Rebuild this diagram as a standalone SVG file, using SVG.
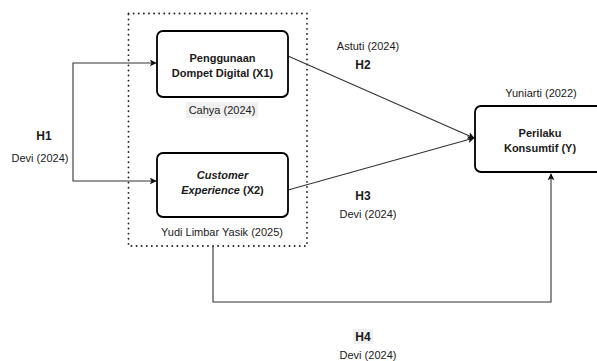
<svg xmlns="http://www.w3.org/2000/svg" width="597" height="361" viewBox="0 0 597 361">
  <style>
    .node { fill: #ffffff; stroke: #000000; stroke-width: 1.8; }
    .group { fill: none; stroke: #222222; stroke-width: 1.8; stroke-dasharray: 0.1 5; stroke-linecap: round; }
    .edge { fill: none; stroke: #333333; stroke-width: 1.1; }
    .lbl { font-family: "Liberation Sans", Arial, sans-serif; font-size: 11px; fill: #1a1a1a; text-anchor: middle; }
    .nodetxt { font-family: "Liberation Sans", Arial, sans-serif; font-size: 11px; font-weight: bold; fill: #1a1a1a; text-anchor: middle; }
    .hyp { font-family: "Liberation Sans", Arial, sans-serif; font-size: 12px; font-weight: bold; fill: #1a1a1a; text-anchor: middle; }
    .hl { fill: #f0f0f0; }
  </style>
  <defs>
    <marker id="arrow" viewBox="0 0 10 10" refX="9" refY="5" markerWidth="7" markerHeight="7" markerUnits="userSpaceOnUse" orient="auto">
      <path d="M0,0 L10,5 L0,10 L2.5,5 Z" fill="#111111"/>
    </marker>
  </defs>

  <rect width="597" height="361" fill="#ffffff"/>

  <!-- dotted group around the independent variables -->
  <g id="independent-group">
    <rect class="group" x="128.5" y="13.5" width="178.5" height="232.5"/>
    <text class="lbl" x="222" y="236">Yudi Limbar Yasik (2025)</text>
  </g>

  <!-- connectors -->
  <g id="connectors">
    <polyline class="edge" points="73,122 73,63 156,63" marker-end="url(#arrow)"/>
    <polyline class="edge" points="73,122 73,181 156,181" marker-end="url(#arrow)"/>
    <line class="edge" x1="288" y1="56" x2="474" y2="138" marker-end="url(#arrow)"/>
    <line class="edge" x1="288" y1="190" x2="474" y2="138" marker-end="url(#arrow)"/>
    <polyline class="edge" points="213,246 213,302 551,302 551,174" marker-end="url(#arrow)"/>
  </g>

  <g id="x1">
    <rect class="node" x="157" y="31" width="131" height="66" rx="6"/>
    <text class="nodetxt" x="222.5" y="62">Penggunaan</text>
    <text class="nodetxt" x="222.5" y="77">Dompet Digital (X1)</text>
    <rect class="hl" x="186" y="102" width="72" height="16"/>
    <text class="lbl" x="222" y="114">Cahya (2024)</text>
  </g>

  <g id="x2">
    <rect class="node" x="157" y="153" width="131" height="64" rx="6"/>
    <text class="nodetxt" x="222.5" y="179" font-style="italic">Customer</text>
    <text class="nodetxt" x="222.5" y="194"><tspan font-style="italic">Experience</tspan> (X2)</text>
  </g>

  <g id="y">
    <rect class="node" x="475" y="106" width="131" height="66" rx="6"/>
    <text class="nodetxt" x="540" y="137">Perilaku</text>
    <text class="nodetxt" x="540" y="152">Konsumtif (Y)</text>
    <text class="lbl" x="541" y="97">Yuniarti (2022)</text>
  </g>

  <g id="h1">
    <text class="hyp" x="44" y="140">H1</text>
    <text class="lbl" x="40" y="162">Devi (2024)</text>
  </g>

  <g id="h2">
    <text class="lbl" x="368" y="50">Astuti (2024)</text>
    <text class="hyp" x="363" y="69">H2</text>
  </g>

  <g id="h3">
    <text class="hyp" x="363" y="200">H3</text>
    <text class="lbl" x="368" y="218">Devi (2024)</text>
  </g>

  <g id="h4">
    <rect class="hl" x="353" y="329" width="20" height="15"/>
    <text class="hyp" x="363" y="341">H4</text>
    <text class="lbl" x="368" y="359">Devi (2024)</text>
  </g>
</svg>
